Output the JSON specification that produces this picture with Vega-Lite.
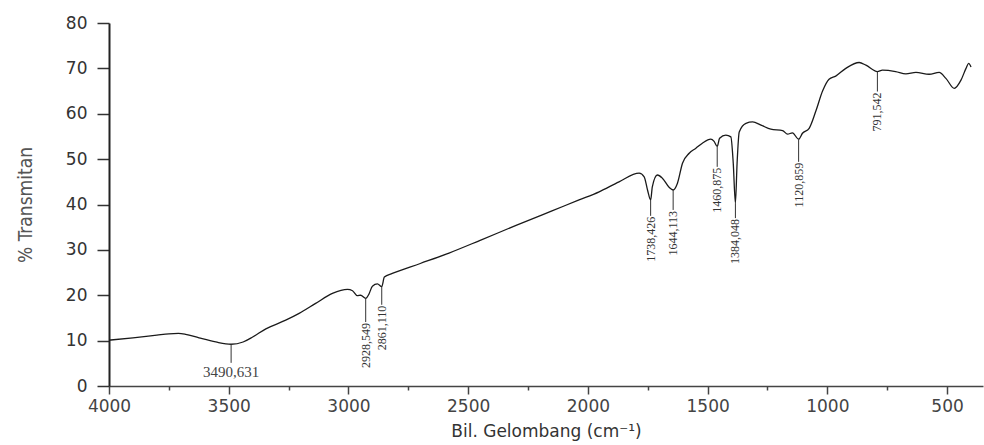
{
  "$schema": "https://vega.github.io/schema/vega-lite/v6.json",
  "autosize": {"type": "none"},
  "padding": {"left": 109, "top": 23, "right": 1, "bottom": 59},
  "width": 874,
  "height": 363,
  "background": "white",
  "config": {"view": {"stroke": null}},
  "datasets": {
    "spectrum": [
      {"wn": 4000, "t": 10.1}, {"wn": 3900, "t": 10.6}, {"wn": 3800, "t": 11.2}, {"wn": 3750, "t": 11.5},
      {"wn": 3710, "t": 11.6}, {"wn": 3680, "t": 11.4}, {"wn": 3624, "t": 10.6}, {"wn": 3554, "t": 9.7},
      {"wn": 3490, "t": 9.2}, {"wn": 3440, "t": 9.7}, {"wn": 3400, "t": 10.8}, {"wn": 3345, "t": 12.6}, {"wn": 3262, "t": 14.5},
      {"wn": 3206, "t": 16.0}, {"wn": 3137, "t": 18.2}, {"wn": 3067, "t": 20.4}, {"wn": 3004, "t": 21.3},
      {"wn": 2983, "t": 21.0}, {"wn": 2963, "t": 19.9}, {"wn": 2949, "t": 20.0}, {"wn": 2928, "t": 19.3},
      {"wn": 2915, "t": 20.2}, {"wn": 2900, "t": 22.0}, {"wn": 2879, "t": 22.5}, {"wn": 2861, "t": 21.9},
      {"wn": 2850, "t": 24.0}, {"wn": 2817, "t": 24.8}, {"wn": 2700, "t": 27.0}, {"wn": 2580, "t": 29.3},
      {"wn": 2450, "t": 32.1}, {"wn": 2300, "t": 35.4}, {"wn": 2150, "t": 38.6}, {"wn": 2037, "t": 41.0},
      {"wn": 1953, "t": 42.8}, {"wn": 1870, "t": 45.0}, {"wn": 1786, "t": 46.9}, {"wn": 1765, "t": 46.1},
      {"wn": 1751, "t": 43.2}, {"wn": 1738, "t": 41.0}, {"wn": 1731, "t": 43.9}, {"wn": 1710, "t": 46.5},
      {"wn": 1689, "t": 45.8}, {"wn": 1661, "t": 43.8}, {"wn": 1644, "t": 43.2}, {"wn": 1626, "t": 44.7},
      {"wn": 1605, "t": 49.1}, {"wn": 1577, "t": 51.3}, {"wn": 1549, "t": 52.4}, {"wn": 1522, "t": 53.5},
      {"wn": 1487, "t": 54.4}, {"wn": 1473, "t": 53.9}, {"wn": 1460, "t": 52.8}, {"wn": 1450, "t": 54.6},
      {"wn": 1424, "t": 55.3}, {"wn": 1403, "t": 54.9}, {"wn": 1393, "t": 49.1}, {"wn": 1384, "t": 40.3},
      {"wn": 1377, "t": 49.1}, {"wn": 1368, "t": 56.0}, {"wn": 1340, "t": 57.9}, {"wn": 1312, "t": 58.2},
      {"wn": 1277, "t": 57.5}, {"wn": 1236, "t": 56.6}, {"wn": 1187, "t": 56.3}, {"wn": 1166, "t": 55.5},
      {"wn": 1146, "t": 55.8}, {"wn": 1120, "t": 54.4}, {"wn": 1104, "t": 55.7}, {"wn": 1076, "t": 56.8},
      {"wn": 1048, "t": 60.6}, {"wn": 1020, "t": 65.0}, {"wn": 993, "t": 67.6}, {"wn": 965, "t": 68.3},
      {"wn": 923, "t": 70.0}, {"wn": 867, "t": 71.3}, {"wn": 839, "t": 70.7}, {"wn": 791, "t": 69.3},
      {"wn": 770, "t": 69.6}, {"wn": 715, "t": 69.3}, {"wn": 672, "t": 68.8}, {"wn": 630, "t": 69.1},
      {"wn": 575, "t": 68.7}, {"wn": 533, "t": 69.1}, {"wn": 505, "t": 67.8}, {"wn": 470, "t": 65.6},
      {"wn": 442, "t": 67.4}, {"wn": 421, "t": 70.0}, {"wn": 410, "t": 71.1}, {"wn": 400, "t": 70.3}
    ],
    "peaks": [
      {"wn": 3490, "t": 9.2, "t2": 5.1, "label": "3490,631", "kind": "flat"},
      {"wn": 2928, "t": 19.3, "t2": 14.1, "label": "2928,549", "kind": "rot"},
      {"wn": 2861, "t": 21.9, "t2": 17.9, "label": "2861,110", "kind": "rot"},
      {"wn": 1738, "t": 41.0, "t2": 37.5, "label": "1738,426", "kind": "rot"},
      {"wn": 1644, "t": 43.2, "t2": 38.8, "label": "1644,113", "kind": "rot"},
      {"wn": 1460, "t": 52.8, "t2": 48.3, "label": "1460,875", "kind": "rot"},
      {"wn": 1384, "t": 40.3, "t2": 37.0, "label": "1384,048", "kind": "rot"},
      {"wn": 1120, "t": 54.4, "t2": 49.4, "label": "1120,859", "kind": "rot"},
      {"wn": 791, "t": 69.3, "t2": 64.9, "label": "791,542", "kind": "rot"}
    ]
  },
  "layer": [
    {
      "data": {"name": "spectrum"},
      "mark": {"type": "line", "color": "#1a1a1a", "strokeWidth": 1.3, "interpolate": "monotone"},
      "encoding": {
        "x": {
          "field": "wn", "type": "quantitative",
          "scale": {"domain": [350, 4000], "reverse": true, "nice": false, "zero": false},
          "axis": {
            "values": [4000, 3750, 3500, 3250, 3000, 2750, 2500, 2250, 2000, 1750, 1500, 1250, 1000, 750, 500],
            "labelExpr": "datum.value % 500 === 0 ? datum.label : ''",
            "format": "d",
            "labelFlush": false,
            "grid": false,
            "tickSize": {"condition": {"test": "datum.value % 500 === 0", "value": 8}, "value": 4},
            "tickWidth": 1.5,
            "tickColor": "#444",
            "domainColor": "#444",
            "domainWidth": 1.5,
            "labelFont": "DejaVu Sans",
            "labelFontSize": 17,
            "labelColor": "#444",
            "labelPadding": 4,
            "title": "Bil. Gelombang (cm⁻¹)",
            "titleFont": "DejaVu Sans",
            "titleFontSize": 17,
            "titleFontWeight": "normal",
            "titleColor": "#333",
            "titlePadding": 9
          }
        },
        "y": {
          "field": "t", "type": "quantitative",
          "scale": {"domain": [0, 80], "nice": false},
          "axis": {
            "values": [0, 5, 10, 15, 20, 25, 30, 35, 40, 45, 50, 55, 60, 65, 70, 75, 80],
            "labelExpr": "datum.value % 10 === 0 ? datum.label : ''",
            "grid": false,
            "tickSize": {"condition": {"test": "datum.value % 10 === 0", "value": 12}, "value": 6},
            "tickWidth": 1.5,
            "tickColor": "#333",
            "domainColor": "#222",
            "domainWidth": 2,
            "labelFont": "DejaVu Sans",
            "labelFontSize": 17,
            "labelColor": "#333",
            "labelPadding": 10,
            "title": "% Transmitan",
            "titleFont": "'DejaVu Sans Condensed', 'Liberation Sans', sans-serif",
            "titleFontSize": 19,
            "titleFontWeight": "normal",
            "titleColor": "#555",
            "titlePadding": 30
          }
        }
      }
    },
    {
      "data": {"name": "peaks"},
      "mark": {"type": "rule", "color": "#333", "strokeWidth": 1},
      "encoding": {
        "x": {"field": "wn", "type": "quantitative"},
        "y": {"field": "t", "type": "quantitative"},
        "y2": {"field": "t2"}
      }
    },
    {
      "data": {"name": "peaks"},
      "transform": [{"filter": "datum.kind === 'rot'"}],
      "mark": {"type": "text", "angle": 270, "align": "right", "baseline": "middle", "dx": -1, "font": "Liberation Serif", "fontSize": 12, "color": "#333"},
      "encoding": {
        "x": {"field": "wn", "type": "quantitative"},
        "y": {"field": "t2", "type": "quantitative"},
        "text": {"field": "label"}
      }
    },
    {
      "data": {"name": "peaks"},
      "transform": [{"filter": "datum.kind === 'flat'"}],
      "mark": {"type": "text", "align": "center", "baseline": "top", "dy": 2, "font": "Liberation Serif", "fontSize": 15, "color": "#444"},
      "encoding": {
        "x": {"field": "wn", "type": "quantitative"},
        "y": {"field": "t2", "type": "quantitative"},
        "text": {"field": "label"}
      }
    }
  ]
}
